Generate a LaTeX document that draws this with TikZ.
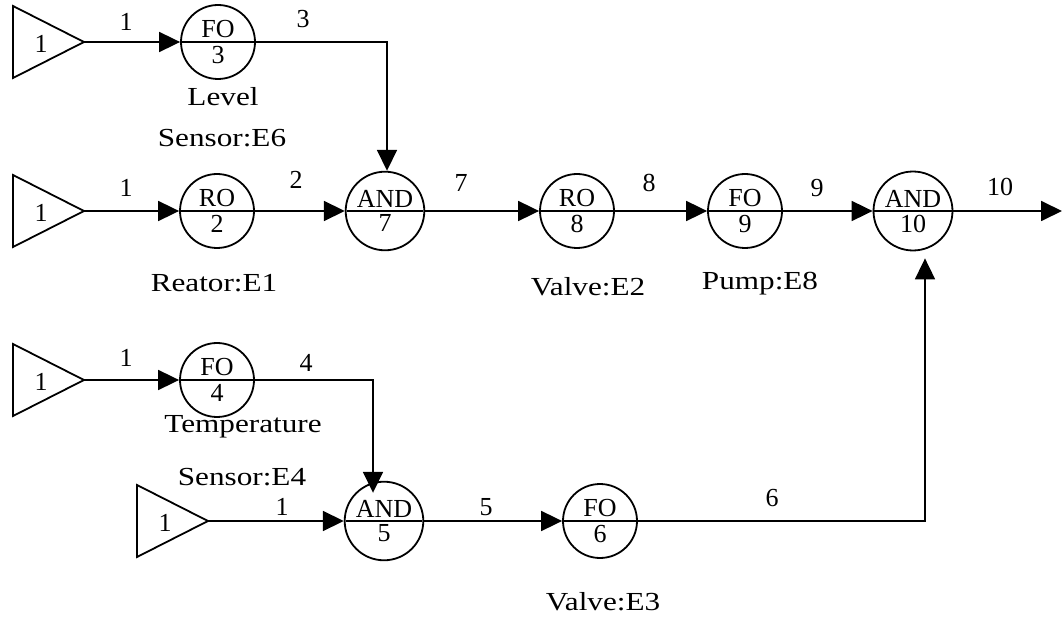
\documentclass[tikz,border=0pt]{standalone}
\usepackage{fontspec}
\setmainfont{Liberation Serif}
\newfontfamily\widefont{Liberation Serif}[FakeStretch=1.2]
\usetikzlibrary{shapes.multipart,arrows.meta}
\begin{document}
\begin{tikzpicture}[x=1pt,y=-1pt,line width=1.8pt,
  every node/.style={font=\fontsize{26}{30}\selectfont, inner sep=0pt},
  gate/.style={circle split, draw, minimum size=74pt, inner sep=3pt},
  lbl/.style={font=\widefont\fontsize{26}{30}\selectfont},
  flow/.style={-{Triangle[length=21pt,width=20pt]}},
]
\useasboundingbox (0,0) rectangle (1063,617);

% source triangles
\coordinate (s1) at (84,42);
\coordinate (s2) at (84,211);
\coordinate (s3) at (84,380);
\coordinate (s4) at (208,521);
\foreach \s in {s1,s2,s3,s4} \draw (\s) -- ++(-71,-36) -- ++(0,72) -- cycle;
\node (s1n) at ([shift={(-43,2)}]s1) {1};
\node (s2n) at ([shift={(-43,2)}]s2) {1};
\node (s3n) at ([shift={(-43,2)}]s3) {1};
\node (s4n) at ([shift={(-43,2)}]s4) {1};

% gates
\node[gate] (fo3)   at (218,42)  {FO \nodepart{lower} 3};
\node[gate] (ro2)   at (217,211) {RO \nodepart{lower} 2};
\node[gate] (and7)  at (385,211) {AND \nodepart{lower} 7};
\node[gate] (ro8)   at (577,211) {RO \nodepart{lower} 8};
\node[gate] (fo9)   at (745,211) {FO \nodepart{lower} 9};
\node[gate] (and10) at (913,211) {AND \nodepart{lower} 10};
\node[gate] (fo4)   at (217,380) {FO \nodepart{lower} 4};
\node[gate] (and5)  at (384,521) {AND \nodepart{lower} 5};
\node[gate] (fo6)   at (600,521) {FO \nodepart{lower} 6};

% connectors
\coordinate (out) at (1062,211);
\draw[flow] (s1) -- (fo3.west);
\draw[flow] (fo3.east) -| ([xshift=2pt]and7.north);
\draw[flow] (s2) -- (ro2.west);
\draw[flow] (ro2) -- (and7);
\draw[flow] (and7) -- (ro8);
\draw[flow] (ro8) -- (fo9);
\draw[flow] (fo9) -- (and10);
\draw[flow] (and10) -- (out);
\draw[flow] (s3) -- (fo4.west);
\draw[flow] (fo4.east) -| ([xshift=-11pt,yshift=-12pt]and5.north);
\draw[flow] (s4) -- (and5.west);
\draw[flow] (and5) -- (fo6);
\draw[flow] (fo6.east) -| ([xshift=12pt,yshift=-7pt]and10.south);

% edge numbers
\node (e1a) at (126,22)  {1};
\node (e3)  at (303,19)  {3};
\node (e1b) at (126,188) {1};
\node (e2)  at (296,180) {2};
\node (e7)  at (461,183) {7};
\node (e8)  at (649,183) {8};
\node (e9)  at (817,188) {9};
\node (e10) at (1000,187) {10};
\node (e1c) at (126,358) {1};
\node (e4)  at (306,363) {4};
\node (e1d) at (282,507) {1};
\node (e5)  at (486,507) {5};
\node (e6)  at (772,498) {6};

% component labels
\node[lbl] (lev)  at (223,97)  {Level};
\node[lbl] (sen6) at (222,138) {Sensor:E6};
\node[lbl] (rea)  at (214,283) {Reator:E1};
\node[lbl] (val2) at (588,287) {Valve:E2};
\node[lbl] (pump) at (760,284) {Pump:E8};
\node[lbl] (temp) at (243,427) {Temperature};
\node[lbl] (sen4) at (242,477) {Sensor:E4};
\node[lbl] (val3) at (603,602) {Valve:E3};
\end{tikzpicture}
\end{document}
